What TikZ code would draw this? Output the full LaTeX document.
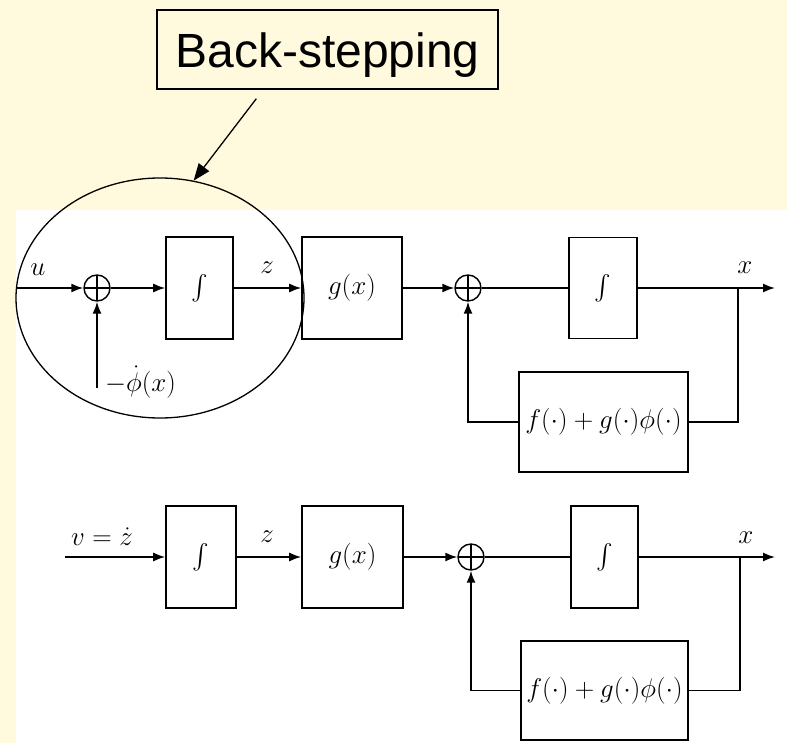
\RequirePackage{fix-cm}
\documentclass[tikz,border=0pt]{standalone}
\usepackage{fontspec}
\usepackage{exscale}
\newfontfamily\slidefont{Liberation Sans}
\usetikzlibrary{positioning, arrows.meta, calc, shapes.geometric}
\definecolor{SlideYellow}{RGB}{255,249,221}

\begin{document}
\begin{tikzpicture}[x=1pt, y=-1pt,
	block/.style={draw, line width=1.6pt, inner sep=0pt, font=\fontsize{27}{32}\selectfont},
	sumnode/.style={draw, circle, line width=1.4pt, minimum size=26pt, inner sep=0pt,
		path picture={\draw[line width=1.2pt] (path picture bounding box.north) -- (path picture bounding box.south)
			(path picture bounding box.west) -- (path picture bounding box.east);}},
	wire/.style={line width=1.6pt},
	signal/.style={wire, -{Latex[length=12pt, width=9pt]}},
	lbl/.style={font=\fontsize{27}{32}\selectfont, inner sep=0pt},
]
	\fill[SlideYellow] (0,0) rectangle (787,743);
	\fill[white] (16,210) rectangle (787,743);
	\useasboundingbox (0,0) rectangle (787,743);

	% upper loop
	\node[sumnode] (sumA) at (97,288) {};
	\node[block, minimum width=67pt, minimum height=102pt] (intA) at (199.5,288) {$\int$};
	\node[block, minimum width=100pt, minimum height=102pt] (gA) at (352,288) {$g(x)$};
	\node[sumnode] (sumB) at (468,288) {};
	\node[block, minimum width=68pt, minimum height=101pt] (intB) at (603,288) {$\int$};
	\node[block, minimum width=169pt, minimum height=100pt] (fA) at (603.5,422) {$f(\cdot)+g(\cdot)\phi(\cdot)$};
	\coordinate (inA) at (16,288);
	\coordinate (phiA) at (97,388);
	\coordinate (brA) at (738,288);
	\coordinate (outA) at (775,288);

	\draw[signal] (inA) -- (sumA);
	\draw[signal] (phiA) -- (sumA);
	\draw[signal] (sumA) -- (intA);
	\draw[signal] (intA) -- (gA);
	\draw[signal] (gA) -- (sumB);
	\draw[wire] (sumB) -- (intB);
	\draw[signal] (intB) -- (outA);
	\draw[wire] (brA) |- (fA);
	\draw[signal] (fA) -| (sumB);

	\node[lbl] (uA) at (38,270) {$u$};
	\node[lbl] (zA) at (267,268) {$z$};
	\node[lbl] (xA) at (745,268) {$x$};
	\node[lbl, anchor=west] (phiL) at (105,382) {$-\dot\phi(x)$};

	% lower loop
	\node[block, minimum width=70pt, minimum height=102pt] (intC) at (201,557) {$\int$};
	\node[block, minimum width=101pt, minimum height=102pt] (gC) at (352.5,557) {$g(x)$};
	\node[sumnode] (sumC) at (471,557) {};
	\node[block, minimum width=67pt, minimum height=102pt] (intD) at (604.5,557) {$\int$};
	\node[block, minimum width=167pt, minimum height=99pt] (fB) at (604.5,690.5) {$f(\cdot)+g(\cdot)\phi(\cdot)$};
	\coordinate (inC) at (65,557);
	\coordinate (brC) at (740,557);
	\coordinate (outC) at (775,557);

	\draw[signal] (inC) -- (intC);
	\draw[signal] (intC) -- (gC);
	\draw[signal] (gC) -- (sumC);
	\draw[wire] (sumC) -- (intD);
	\draw[signal] (intD) -- (outC);
	\draw[wire] (brC) |- (fB);
	\draw[signal] (fB) -| (sumC);

	\node[lbl] (vC) at (102,537) {$v=\dot z$};
	\node[lbl] (zC) at (267,537) {$z$};
	\node[lbl] (xC) at (746,538) {$x$};

	% callout
	\node[draw, ellipse, line width=1.3pt, minimum width=288pt, minimum height=240pt, inner sep=0pt] (bsring) at (160,298) {};
	\node[draw, line width=1.3pt, minimum width=341pt, minimum height=79pt, inner sep=0pt,
		text height=44pt, text depth=8pt, font=\slidefont\fontsize{48}{56}\selectfont] (bs) at (327.5,49.5) {Back-stepping};
	\draw[line width=1.3pt, -{Triangle[length=17pt, width=13pt]}] ($(bs.south west)+(100,9)$) -- (bsring.74);
\end{tikzpicture}
\end{document}
